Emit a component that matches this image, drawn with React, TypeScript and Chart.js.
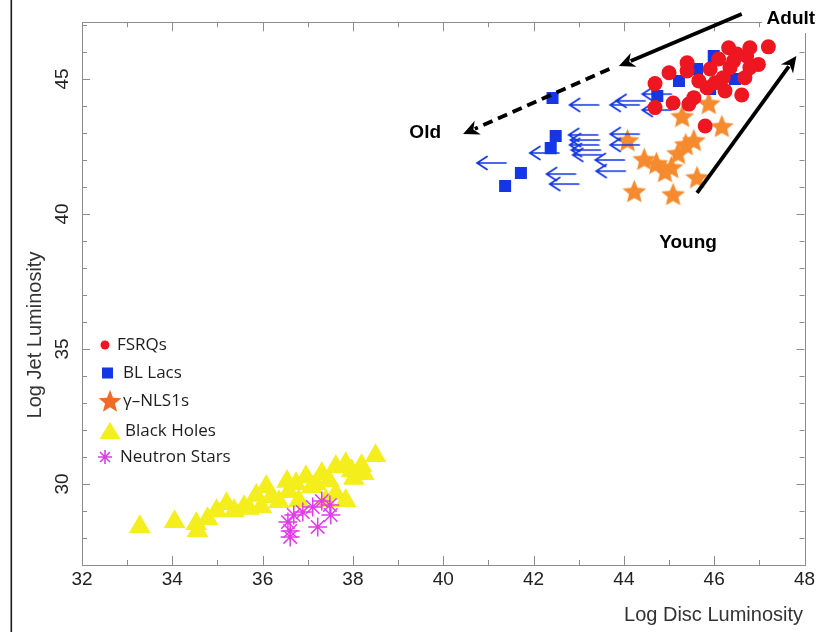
import React, { useEffect, useRef } from "react";
import { Chart, registerables } from "chart.js";

Chart.register(...registerables);

// ---------- tick labels ----------
const xTickLabels = ["32", "34", "36", "38", "40", "42", "44", "46", "48"];
const yTickLabels = ["30", "35", "40", "45"];

// ---------- FSRQs ----------
const fsrqX = [47.2, 46.79, 46.32, 46.5, 46.1, 45.4, 45.0, 44.69, 46.98, 46.68, 46.61, 45.91, 45.66, 45.55, 45.44, 44.69, 45.8, 46.35, 46.2, 46.02, 45.84, 46.43, 46.72, 46.79, 45.4, 45.09, 46.24];
const fsrqY = [46.19, 46.16, 46.16, 45.93, 45.74, 45.6, 45.23, 44.83, 45.54, 45.05, 44.41, 45.37, 44.93, 44.31, 44.07, 43.94, 43.26, 45.42, 45.05, 44.86, 44.68, 45.67, 45.85, 45.42, 45.3, 44.11, 44.56];

// ---------- BL Lacs (detections) ----------
const bllX = [42.42, 42.49, 42.38, 41.72, 41.37, 45.22, 44.74, 45.99, 45.62, 45.91, 46.46, 46.79];
const bllY = [44.3, 42.89, 42.44, 41.52, 41.04, 44.93, 44.37, 45.85, 45.37, 44.63, 45.0, 45.48];

// ---------- BL Lacs (upper limits on disc luminosity) ----------
const bllLimX = [41.39, 42.56, 42.93, 43.0, 43.44, 43.42, 43.46, 43.44, 43.48, 43.51, 44.34, 44.47, 45.05, 45.05, 44.34, 44.34, 44.01, 44.03];
const bllLimY = [41.89, 42.26, 41.48, 41.11, 44.04, 42.93, 42.74, 42.56, 42.37, 42.19, 44.04, 44.19, 44.44, 43.85, 42.96, 42.56, 42.0, 41.59];

// ---------- gamma-NLS1s ----------
const nlsX = [44.08, 44.23, 44.45, 44.72, 45.05, 45.09, 45.2, 45.37, 45.55, 45.62, 45.29, 45.88, 46.17, 44.91];
const nlsY = [42.74, 40.85, 42.04, 41.89, 41.74, 40.74, 42.26, 42.59, 42.74, 41.37, 43.63, 44.11, 43.26, 41.59];

// ---------- Black holes ----------
const bhX = [33.28, 34.05, 34.53, 34.56, 34.78, 34.98, 35.2, 35.37, 35.59, 35.86, 36.08, 36.19, 36.36, 36.58, 36.74, 36.96, 37.18, 37.31, 37.47, 37.62, 37.84, 37.97, 38.19, 38.5, 36.8, 37.4, 37.62, 37.84, 35.7, 35.97, 36.54, 37.09, 38.02, 38.24];
const bhY = [28.42, 28.6, 28.53, 28.27, 28.71, 29.01, 29.27, 29.01, 29.16, 29.57, 29.9, 29.53, 29.34, 29.71, 30.01, 30.27, 30.01, 30.38, 30.12, 30.64, 30.75, 30.49, 30.68, 31.05, 29.38, 29.38, 29.64, 29.38, 29.09, 29.16, 30.09, 29.9, 30.2, 30.38];

// ---------- Neutron stars ----------
const nsX = [36.56, 36.61, 36.69, 36.89, 37.11, 37.31, 37.22, 37.51, 37.49, 36.61];
const nsY = [28.59, 28.26, 28.85, 28.96, 29.15, 29.37, 28.41, 28.85, 29.22, 28.04];

// ---------- legend ----------
const legendLabels = ["FSRQs", "BL Lacs", "\u03b3\u2013NLS1s", "Black Holes", "Neutron Stars"];

// ---------- annotations (data coordinates) ----------
const adultArrow = [46.61, 47.41, 43.89, 45.48];
const oldArrow = [43.68, 45.37, 40.44, 42.96];
const youngArrow = [45.62, 40.78, 47.82, 45.85];
const annotationLabels = ["Adult", "Old", "Young"];
const annotationPos = [
  [47.16, 47.22],
  [39.6, 43.0],
  [45.42, 38.93],
];

const xTitle = "Log Disc Luminosity";
const yTitle = "Log Jet Luminosity";

const C_RED = "#ee1620";
const C_BLUE = "#1536e4";
const C_ORANGE = "#f58a2e";
const C_YELLOW = "#f3ee1c";
const C_MAGENTA = "#e03ce8";
const C_LEG_ORANGE = "#f26a26";

const zip = (xs: number[], ys: number[]) => xs.map((x, i) => ({ x, y: ys[i] }));

function starPath(ctx: CanvasRenderingContext2D, cx: number, cy: number, R: number, r: number) {
  ctx.beginPath();
  for (let i = 0; i < 10; i++) {
    const rad = i % 2 === 0 ? R : r;
    const a = -Math.PI / 2 + (i * Math.PI) / 5;
    const px = cx + Math.cos(a) * rad;
    const py = cy + Math.sin(a) * rad;
    if (i === 0) ctx.moveTo(px, py);
    else ctx.lineTo(px, py);
  }
  ctx.closePath();
}

function makeStarImage(color: string, R: number) {
  const c = document.createElement("canvas");
  const s = Math.ceil(R * 2 + 4);
  c.width = s;
  c.height = s;
  const ctx = c.getContext("2d")!;
  ctx.fillStyle = color;
  starPath(ctx, s / 2, s / 2 + R * 0.1, R, R * 0.45);
  ctx.fill();
  return c;
}

function makeLeftArrowImage(color: string, len: number) {
  const c = document.createElement("canvas");
  c.width = len * 2 + 4;
  c.height = 16;
  const ctx = c.getContext("2d")!;
  const right = c.width / 2;
  const tip = right - len;
  ctx.strokeStyle = color;
  ctx.lineWidth = 1.7;
  ctx.lineCap = "round";
  ctx.beginPath();
  ctx.moveTo(tip, 8);
  ctx.lineTo(right, 8);
  ctx.moveTo(tip + 10, 1.5);
  ctx.lineTo(tip, 8);
  ctx.lineTo(tip + 10, 14.5);
  ctx.stroke();
  return c;
}

function drawArrow(ctx: CanvasRenderingContext2D, x1: number, y1: number, x2: number, y2: number, dashed: boolean) {
  const ang = Math.atan2(y2 - y1, x2 - x1);
  const headLen = 16;
  const headW = 7.5;
  const bx = x2 - Math.cos(ang) * headLen * 0.8;
  const by = y2 - Math.sin(ang) * headLen * 0.8;
  ctx.save();
  ctx.strokeStyle = "#000";
  ctx.fillStyle = "#000";
  ctx.lineWidth = 3.8;
  if (dashed) ctx.setLineDash([10, 6]);
  ctx.beginPath();
  ctx.moveTo(x1, y1);
  ctx.lineTo(bx, by);
  ctx.stroke();
  ctx.setLineDash([]);
  const hx = x2 - Math.cos(ang) * headLen;
  const hy = y2 - Math.sin(ang) * headLen;
  ctx.beginPath();
  ctx.moveTo(x2, y2);
  ctx.lineTo(hx + Math.sin(ang) * headW, hy - Math.cos(ang) * headW);
  ctx.lineTo(x2 - Math.cos(ang) * headLen * 0.7, y2 - Math.sin(ang) * headLen * 0.7);
  ctx.lineTo(hx - Math.sin(ang) * headW, hy + Math.cos(ang) * headW);
  ctx.closePath();
  ctx.fill();
  ctx.restore();
}

const TICK_FONT = "'Liberation Sans', Arial, Helvetica, sans-serif";

export default function App() {
  const ref = useRef<HTMLCanvasElement | null>(null);

  useEffect(() => {
    const canvas = ref.current;
    if (!canvas) return;
    const starImg = makeStarImage(C_ORANGE, 12.5);
    const arrowImg = makeLeftArrowImage(C_BLUE, 29);

    const framePlugin = {
      id: "frame",
      beforeDraw(chart: any) {
        const ctx = chart.ctx;
        ctx.save();
        ctx.fillStyle = "#fff";
        ctx.fillRect(0, 0, chart.width, chart.height);
        ctx.fillStyle = "#1a1a1a";
        ctx.fillRect(10.5, 0, 1.6, chart.height);
        ctx.restore();
      },
      beforeDatasetsDraw(chart: any) {
        const ctx = chart.ctx;
        const { left, right, top, bottom } = chart.chartArea;
        const xs = chart.scales.x;
        const ys = chart.scales.y;
        ctx.save();
        ctx.strokeStyle = "#8c8c8c";
        ctx.lineWidth = 1;
        ctx.strokeRect(Math.round(left) + 0.5, Math.round(top) + 0.5, Math.round(right - left), Math.round(bottom - top));
        ctx.beginPath();
        for (let v = Math.ceil(xs.min); v <= xs.max; v++) {
          const px = Math.round(xs.getPixelForValue(v)) + 0.5;
          const len = v % 2 === 0 ? 9 : 5;
          ctx.moveTo(px, bottom);
          ctx.lineTo(px, bottom - len);
          ctx.moveTo(px, top);
          ctx.lineTo(px, top + len);
        }
        for (let v = Math.ceil(ys.min); v <= ys.max; v++) {
          const py = Math.round(ys.getPixelForValue(v)) + 0.5;
          const len = v % 5 === 0 ? 8 : 5;
          ctx.moveTo(left, py);
          ctx.lineTo(left + len, py);
          ctx.moveTo(right, py);
          ctx.lineTo(right - len, py);
        }
        ctx.stroke();
        ctx.restore();
      },
      afterDraw(chart: any) {
        const ctx = chart.ctx;
        const xs = chart.scales.x;
        const ys = chart.scales.y;
        const P = (a: number, b: number) => [xs.getPixelForValue(a), ys.getPixelForValue(b)];
        ctx.save();

        // white box behind "Adult"
        ctx.fillStyle = "#fff";
        ctx.fillRect(762, 0, 60, 33);

        // arrows
        let [a1, b1] = P(adultArrow[0], adultArrow[1]);
        let [a2, b2] = P(adultArrow[2], adultArrow[3]);
        drawArrow(ctx, a1, b1, a2, b2, false);
        [a1, b1] = P(oldArrow[0], oldArrow[1]);
        [a2, b2] = P(oldArrow[2], oldArrow[3]);
        drawArrow(ctx, a1, b1, a2, b2, true);
        [a1, b1] = P(youngArrow[0], youngArrow[1]);
        [a2, b2] = P(youngArrow[2], youngArrow[3]);
        drawArrow(ctx, a1, b1, a2, b2, false);

        // annotation texts
        ctx.fillStyle = "#000";
        ctx.font = "bold 19px 'Liberation Sans', Arial, sans-serif";
        ctx.textBaseline = "middle";
        const [ax, ay] = P(annotationPos[0][0], annotationPos[0][1]);
        ctx.textAlign = "left";
        ctx.fillText(annotationLabels[0], ax, ay);
        const [ox, oy] = P(annotationPos[1][0], annotationPos[1][1]);
        ctx.textAlign = "center";
        ctx.fillText(annotationLabels[1], ox, oy);
        const [yx, yy] = P(annotationPos[2][0], annotationPos[2][1]);
        ctx.fillText(annotationLabels[2], yx, yy);

        // axis titles
        ctx.fillStyle = "#333";
        ctx.font = `20px ${TICK_FONT}`;
        ctx.textAlign = "right";
        ctx.textBaseline = "middle";
        ctx.fillText(xTitle, 803, 615);
        ctx.save();
        ctx.translate(35, 335);
        ctx.rotate(-Math.PI / 2);
        ctx.textAlign = "center";
        ctx.fillText(yTitle, 0, 0);
        ctx.restore();

        // legend
        const rows = [345, 373, 401, 431, 457];
        const textX = [117, 123, 123, 125, 120];
        ctx.fillStyle = C_RED;
        ctx.beginPath();
        ctx.arc(105, rows[0], 4.5, 0, Math.PI * 2);
        ctx.fill();
        ctx.fillStyle = C_BLUE;
        ctx.fillRect(102, rows[1] - 5.5, 11, 11);
        ctx.fillStyle = C_LEG_ORANGE;
        starPath(ctx, 110, rows[2] + 1, 12, 5.2);
        ctx.fill();
        ctx.fillStyle = C_YELLOW;
        ctx.beginPath();
        ctx.moveTo(110, rows[3] - 9);
        ctx.lineTo(120.5, rows[3] + 8);
        ctx.lineTo(99.5, rows[3] + 8);
        ctx.closePath();
        ctx.fill();
        ctx.strokeStyle = C_MAGENTA;
        ctx.lineWidth = 1.6;
        ctx.beginPath();
        for (let i = 0; i < 4; i++) {
          const a = (i * Math.PI) / 4;
          ctx.moveTo(105 - Math.cos(a) * 7, rows[4] - Math.sin(a) * 7);
          ctx.lineTo(105 + Math.cos(a) * 7, rows[4] + Math.sin(a) * 7);
        }
        ctx.stroke();

        ctx.fillStyle = "#1e1e1e";
        ctx.font = "17px 'Open Sans', 'Noto Sans', sans-serif";
        ctx.textAlign = "left";
        ctx.textBaseline = "middle";
        legendLabels.forEach((t, i) => ctx.fillText(t, textX[i], rows[i]));
        ctx.restore();
      },
    };

    const chart = new Chart(canvas, {
      type: "scatter",
      data: {
        datasets: [
          {
            label: legendLabels[0],
            data: zip(fsrqX, fsrqY),
            pointStyle: "circle",
            pointRadius: 7.5,
            backgroundColor: C_RED,
            borderColor: C_RED,
            borderWidth: 0,
          },
          {
            label: legendLabels[1],
            data: zip(bllX, bllY),
            pointStyle: "rect",
            pointRadius: 8.5,
            backgroundColor: C_BLUE,
            borderColor: C_BLUE,
            borderWidth: 0,
          },
          {
            label: legendLabels[1] + " limits",
            data: zip(bllLimX, bllLimY),
            pointStyle: arrowImg as any,
            pointRadius: 5,
          },
          {
            label: legendLabels[2],
            data: zip(nlsX, nlsY),
            pointStyle: starImg as any,
            pointRadius: 5,
          },
          {
            label: legendLabels[4],
            data: zip(nsX, nsY),
            pointStyle: "star",
            pointRadius: 9.5,
            backgroundColor: C_MAGENTA,
            borderColor: C_MAGENTA,
            borderWidth: 1.5,
          },
          {
            label: legendLabels[3],
            data: zip(bhX, bhY),
            pointStyle: "triangle",
            pointRadius: 12.5,
            backgroundColor: C_YELLOW,
            borderColor: C_YELLOW,
            borderWidth: 0,
          },
        ],
      },
      options: {
        responsive: false,
        animation: false,
        layout: { padding: { left: 0, top: 22.3, right: 9, bottom: 0 } },
        plugins: {
          legend: { display: false },
          tooltip: { enabled: false },
          title: { display: false },
        },
        scales: {
          x: {
            type: "linear",
            min: 32,
            max: 48,
            grid: { display: false, drawTicks: false },
            border: { display: false },
            ticks: {
              stepSize: 1,
              autoSkip: false,
              minRotation: 0,
              maxRotation: 0,
              padding: 3,
              color: "#222",
              font: { family: TICK_FONT, size: 19 },
              callback: (v: any) => (xTickLabels.includes(String(v)) ? String(v) : ""),
            },
            afterFit: (s: any) => {
              s.height = 67;
              s.paddingLeft = 0;
              s.paddingRight = 0;
            },
          },
          y: {
            type: "linear",
            min: 27,
            max: 47.1,
            grid: { display: false, drawTicks: false },
            border: { display: false },
            ticks: {
              stepSize: 1,
              autoSkip: false,
              minRotation: 90,
              maxRotation: 90,
              crossAlign: "center",
              padding: 8.5,
              color: "#222",
              font: { family: TICK_FONT, size: 19 },
              callback: (v: any) => (yTickLabels.includes(String(v)) ? String(v) : ""),
            },
            afterFit: (s: any) => {
              s.width = 82;
              s.paddingTop = 0;
              s.paddingBottom = 0;
            },
          },
        },
      } as any,
      plugins: [framePlugin],
    });
    return () => chart.destroy();
  }, []);

  return (
    <div style={{ position: "fixed", left: 0, top: 0, width: 817, height: 632, background: "#fff" }}>
      <canvas ref={ref} width={817} height={632} style={{ display: "block", width: 817, height: 632 }} />
    </div>
  );
}
